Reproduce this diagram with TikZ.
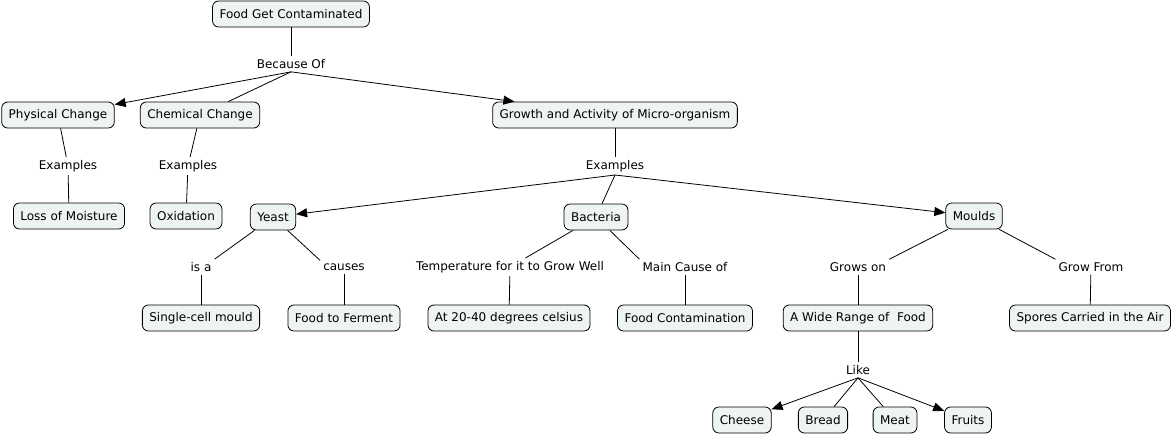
\documentclass[tikz,border=0pt]{standalone}
\usepackage{fontspec}
\setmainfont{DejaVu Sans}
\usetikzlibrary{arrows.meta}
\definecolor{conceptfill}{HTML}{EEF3F3}

\begin{document}
\begin{tikzpicture}[x=1pt, y=-1pt,
	concept/.style={draw, line width=0.8pt, rounded corners=6pt, fill=conceptfill,
		minimum height=26pt, inner xsep=7pt, font=\fontsize{12}{14}\selectfont},
	linkword/.style={inner sep=3pt, font=\fontsize{12}{14}\selectfont},
	link/.style={line width=0.8pt},
	arrowlink/.style={link, -{Triangle[length=11pt, width=9pt]}}]

% frame %{{{2

	\useasboundingbox (0,0) rectangle (1175,434);

% concepts %{{{2

	\node[concept] (food) at (291,14) {Food Get Contaminated};

	\node[concept] (physical) at (58,115) {Physical Change};
	\node[concept] (chemical) at (200,115) {Chemical Change};
	\node[concept] (growth) at (615,115) {Growth and Activity of Micro-organism};

	\node[concept] (moisture) at (69,216) {Loss of Moisture};
	\node[concept] (oxidation) at (186,216) {Oxidation};
	\node[concept] (yeast) at (273,217) {Yeast};
	\node[concept] (bacteria) at (596,217) {Bacteria};
	\node[concept] (moulds) at (974,216) {Moulds};

	\node[concept] (singlecell) at (201,318) {Single-cell mould};
	\node[concept] (ferment) at (344,318) {Food to Ferment};
	\node[concept] (degrees) at (509,318) {At 20-40 degrees celsius};
	\node[concept] (contamination) at (685,318) {Food Contamination};
	\node[concept] (range) at (858,318) {A Wide Range of\ \ Food};
	\node[concept] (spores) at (1090,318) {Spores Carried in the Air};

	\node[concept] (cheese) at (742,420) {Cheese};
	\node[concept] (bread) at (823,420) {Bread};
	\node[concept] (meat) at (895,420) {Meat};
	\node[concept] (fruits) at (968,420) {Fruits};

% linking words %{{{2

	\node[linkword] (because) at (291,64) {Because Of};
	\node[linkword] (exphys) at (68,166) {Examples};
	\node[linkword] (exchem) at (188,166) {Examples};
	\node[linkword] (exgrowth) at (615,166) {Examples};
	\node[linkword] (isa) at (201,267) {is a};
	\node[linkword] (causes) at (344,267) {causes};
	\node[linkword] (temperature) at (510,267) {Temperature for it to Grow Well};
	\node[linkword] (maincause) at (685,267) {Main Cause of};
	\node[linkword] (growson) at (858,267) {Grows on};
	\node[linkword] (growfrom) at (1091,267) {Grow From};
	\node[linkword] (like) at (858,370) {Like};

% links %{{{2

	\draw[link] (food) -- (because);
	\draw[arrowlink] (because.south) -- (physical);
	\draw[link] (because.south) -- (chemical);
	\draw[arrowlink] (because.south) -- (growth);

	\draw[link] (physical) -- (exphys);
	\draw[link] (exphys) -- (moisture);
	\draw[link] (chemical) -- (exchem);
	\draw[link] (exchem) -- (oxidation);

	\draw[link] (growth) -- (exgrowth);
	\draw[arrowlink] (exgrowth.south) -- (yeast);
	\draw[link] (exgrowth.south) -- (bacteria);
	\draw[arrowlink] (exgrowth.south) -- (moulds);

	\draw[link] (yeast) -- (isa.north east);
	\draw[link] (isa) -- (singlecell);
	\draw[link] (yeast) -- (causes.north west);
	\draw[link] (causes) -- (ferment);

	\draw[link] (bacteria) -- (temperature);
	\draw[link] (temperature) -- (degrees);
	\draw[link] (bacteria) -- (maincause.north west);
	\draw[link] (maincause) -- (contamination);

	\draw[link] (moulds) -- (growson.north east);
	\draw[link] (growson) -- (range);
	\draw[link] (moulds) -- (growfrom.north west);
	\draw[link] (growfrom) -- (spores);

	\draw[link] (range) -- (like);
	\draw[arrowlink] (like.south) -- (cheese);
	\draw[link] (like.south) -- (bread);
	\draw[link] (like.south) -- (meat);
	\draw[arrowlink] (like.south) -- (fruits);

\end{tikzpicture}
\end{document}
